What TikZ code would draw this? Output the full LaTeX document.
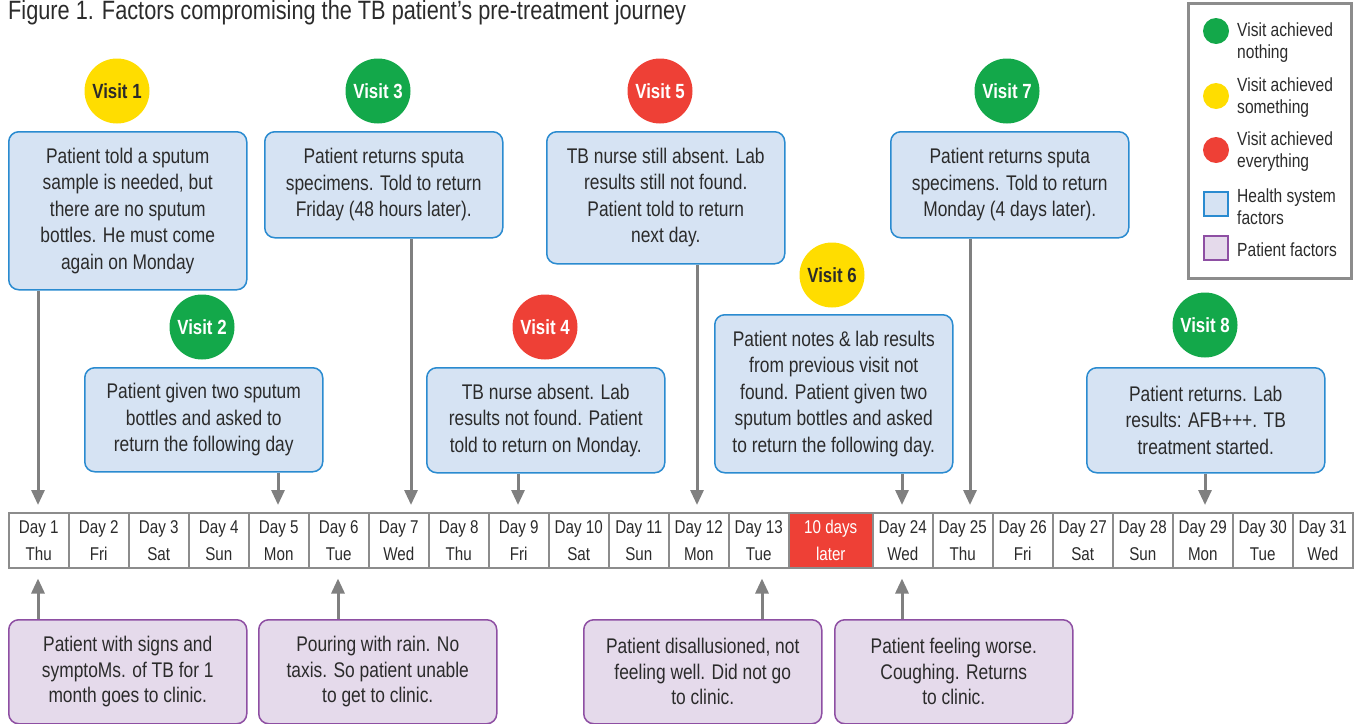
\documentclass[tikz,border=0pt]{standalone}
\usepackage{fontspec}
\setmainfont{Liberation Sans}[FakeStretch=0.82]
\usetikzlibrary{arrows.meta}
\definecolor{txt}{HTML}{2B2B2B}
\definecolor{vgreen}{HTML}{13A84A}
\definecolor{vyellow}{HTML}{FFDD00}
\definecolor{vred}{HTML}{EE4036}
\definecolor{hfill}{HTML}{D6E3F3}
\definecolor{hdraw}{HTML}{2A8BD0}
\definecolor{pfill}{HTML}{E5DAEB}
\definecolor{pdraw}{HTML}{8E4FA3}
\definecolor{gline}{HTML}{808080}
\definecolor{cellline}{HTML}{8C8C8C}
\begin{document}
\begin{tikzpicture}[x=1pt,y=-1pt,
  every node/.style={text=txt},
  boxbase/.style={rounded corners=10pt, line width=1.5pt, align=center, inner sep=0pt, anchor=north west,
     font=\fontsize{21.2}{26.5}\selectfont},
  hbox/.style={boxbase, draw=hdraw, fill=hfill},
  pbox/.style={boxbase, draw=pdraw, fill=pfill, font=\fontsize{21.2}{25.5}\selectfont},
  visit/.style={circle, minimum size=65pt, inner sep=0pt, font=\fontsize{20.5}{22}\selectfont\bfseries},
  vg/.style={visit, fill=vgreen, text=white},
  vy/.style={visit, fill=vyellow, text=txt},
  vr/.style={visit, fill=vred, text=white},
  cell/.style={draw=cellline, line width=1.5pt, minimum height=55pt, inner sep=0pt, anchor=north west,
     align=center, font=\fontsize{18.5}{27}\selectfont},
  arr/.style={draw=gline, line width=3pt, -{Triangle[length=15pt,width=13pt]}},
  legtxt/.style={anchor=west, align=left, inner sep=0pt, font=\fontsize{19}{22}\selectfont},
]
\useasboundingbox (0,0) rectangle (1354,723);
\clip (0,0) rectangle (1354,723);

% title
\node[anchor=base west, inner sep=0pt, font=\fontsize{26.5}{28}\selectfont] (title) at (8,19.5)
  {Figure 1. Factors compromising the TB patient’s pre-treatment journey};

% legend
\node[draw=cellline, line width=2.5pt, minimum width=163pt, minimum height=275pt, anchor=north west, inner sep=0pt] (legend) at (1187,2) {};
\node[circle, fill=vgreen, minimum size=26pt, inner sep=0pt] (lg) at (1216,31) {};
\node[circle, fill=vyellow, minimum size=26pt, inner sep=0pt] (ly) at (1216,96) {};
\node[circle, fill=vred, minimum size=26pt, inner sep=0pt] (lr) at (1216,150) {};
\node[draw=hdraw, fill=hfill, line width=1.3pt, minimum size=24pt, inner sep=0pt] (lh) at (1216,204) {};
\node[draw=pdraw, fill=pfill, line width=1.3pt, minimum size=24pt, inner sep=0pt] (lp) at (1216,248) {};
\node[legtxt] (lgt) at (1237,43) {Visit achieved\\nothing};
\node[legtxt] (lyt) at (1237,98) {Visit achieved\\something};
\node[legtxt] (lrt) at (1237,152) {Visit achieved\\everything};
\node[legtxt] (lht) at (1237,207) {Health system\\factors};
\node[legtxt] (lpt) at (1237,250) {Patient factors};

% timeline cells
\foreach \i/\d [count=\k from 0] in {1/Thu,2/Fri,3/Sat,4/Sun,5/Mon,6/Tue,7/Wed,8/Thu,9/Fri,10/Sat,11/Sun,12/Mon,13/Tue}{
  \node[cell, minimum width=60pt] (d\i) at (8+60*\k,512) {Day \i\\\d};
}
\node[cell, minimum width=84pt, fill=vred, text=white] (dlater) at (788,512) {10 days\\later};
\foreach \i/\d [count=\k from 0] in {24/Wed,25/Thu,26/Fri,27/Sat,28/Sun,29/Mon,30/Tue,31/Wed}{
  \node[cell, minimum width=60pt] (d\i) at (872+60*\k,512) {Day \i\\\d};
}

% health system boxes
\node[hbox, minimum width=238pt, minimum height=158pt] (b1) at (8,131)
  {Patient told a sputum\\sample is needed, but\\there are no sputum\\bottles. He must come\\again on Monday};
\node[hbox, minimum width=238pt, minimum height=104pt] (b2) at (84,367)
  {Patient given two sputum\\bottles and asked to\\return the following day};
\node[hbox, minimum width=238pt, minimum height=106pt] (b3) at (264,131)
  {Patient returns sputa\\specimens. Told to return\\Friday (48 hours later).};
\node[hbox, minimum width=238pt, minimum height=105pt] (b4) at (426,367)
  {TB nurse absent. Lab\\results not found. Patient\\told to return on Monday.};
\node[hbox, minimum width=238pt, minimum height=132pt] (b5) at (546,131)
  {TB nurse still absent. Lab\\results still not found.\\Patient told to return\\next day.};
\node[hbox, minimum width=238pt, minimum height=158pt] (b6) at (714,314)
  {Patient notes \& lab results\\from previous visit not\\found. Patient given two\\sputum bottles and asked\\to return the following day.};
\node[hbox, minimum width=238pt, minimum height=106pt] (b7) at (890,131)
  {Patient returns sputa\\specimens. Told to return\\Monday (4 days later).};
\node[hbox, minimum width=238pt, minimum height=105pt] (b8) at (1086,367)
  {Patient returns. Lab\\results: AFB+++. TB\\treatment started.};

% visit circles
\node[vy] (v1) at (117,91) {Visit 1};
\node[vg] (v2) at (202,327) {Visit 2};
\node[vg] (v3) at (378,91) {Visit 3};
\node[vr] (v4) at (545,327) {Visit 4};
\node[vr] (v5) at (660,91) {Visit 5};
\node[vy] (v6) at (832,275) {Visit 6};
\node[vg] (v7) at (1007,91) {Visit 7};
\node[vg] (v8) at (1205,325) {Visit 8};

% patient boxes
\node[pbox, minimum width=238pt, minimum height=104pt] (p1) at (8,619)
  {Patient with signs and\\symptoMs. of TB for 1\\month goes to clinic.};
\node[pbox, minimum width=238pt, minimum height=104pt] (p2) at (258,619)
  {Pouring with rain. No\\taxis. So patient unable\\to get to clinic.};
\node[pbox, minimum width=238pt, minimum height=104pt] (p3) at (583,619)
  {Patient disallusioned, not\\feeling well. Did not go\\to clinic.};
\node[pbox, minimum width=238pt, minimum height=104pt] (p4) at (834,619)
  {Patient feeling worse.\\Coughing. Returns\\to clinic.};

% arrows from health system boxes down to the timeline
\foreach \b/\c/\x in {b1/d1/38, b2/d5/278, b3/d7/411, b4/d9/518, b5/d12/697, b6/d24/902, b7/d25/970, b8/d29/1205}{
  \draw[arr, shorten >=7pt] (\b.south -| \x,0) -- (\c.north -| \x,0);
}
% arrows from patient boxes up to the timeline
\foreach \b/\c/\x in {p1/d1/38, p2/d6/338, p3/d13/762, p4/d24/902}{
  \draw[arr, shorten >=10pt] (\b.north -| \x,0) -- (\c.south -| \x,0);
}
\end{tikzpicture}
\end{document}
